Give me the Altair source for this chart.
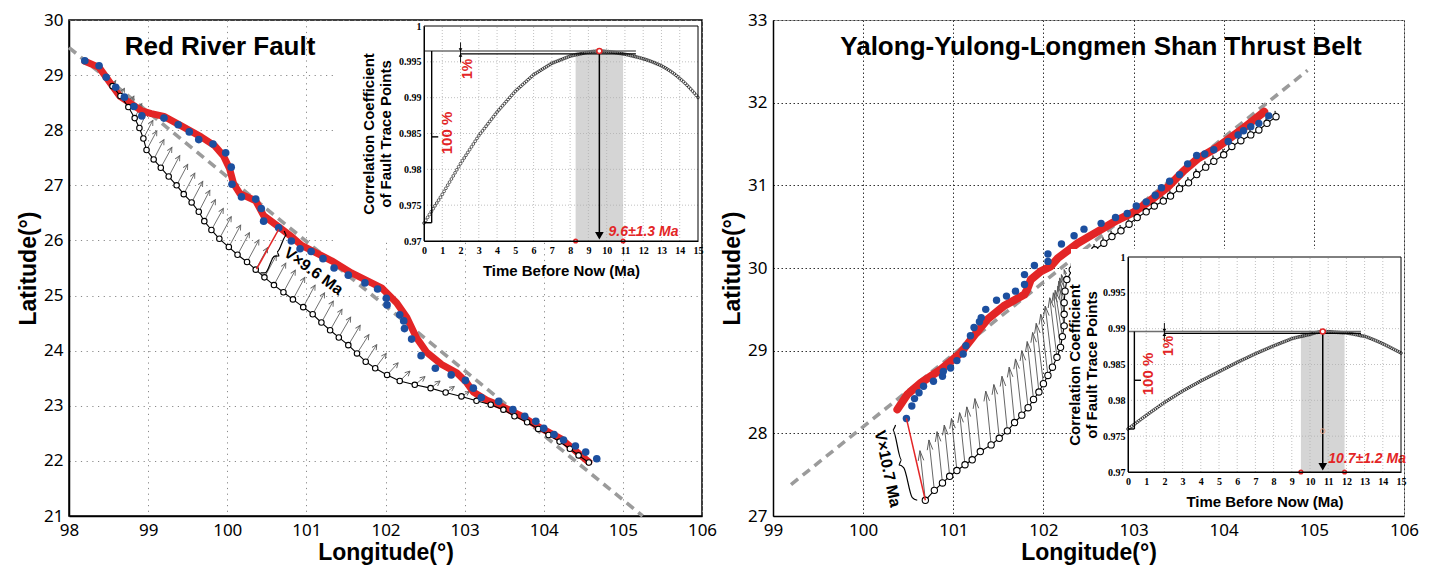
import math
import altair as alt
import pandas as pd

# ======================= DATA : Red River Fault (left) =======================
rr_blue_lon = [98.20, 98.38, 98.47, 98.59, 98.70, 98.82, 98.92, 99.20, 99.38, 99.52,
               99.64, 99.82, 99.98, 100.05, 100.06, 100.18, 100.36, 100.43, 100.46, 100.65,
               100.81, 100.92, 101.06, 101.21, 101.35, 101.53, 101.74, 101.90, 102.01, 102.02,
               102.18, 102.23, 102.24, 102.33, 102.45, 102.63, 102.83, 103.01, 103.11, 103.21,
               103.43, 103.61, 103.76, 103.90, 104.00, 104.13, 104.25, 104.40, 104.53, 104.67]
rr_blue_lat = [29.26, 29.17, 28.96, 28.78, 28.60, 28.43, 28.26, 28.22, 28.10, 27.97,
               27.83, 27.75, 27.59, 27.33, 27.02, 26.79, 26.75, 26.58, 26.35, 26.23,
               25.99, 25.85, 25.80, 25.67, 25.50, 25.37, 25.23, 25.12, 24.95, 24.83,
               24.65, 24.54, 24.40, 24.21, 23.91, 23.68, 23.56, 23.46, 23.32, 23.15,
               23.08, 22.93, 22.81, 22.72, 22.59, 22.48, 22.38, 22.27, 22.16, 22.04]
rr_red_lon = [98.20, 98.38, 98.64, 98.92, 99.04, 99.20, 99.42, 99.67, 99.84, 99.95,
              100.03, 100.08, 100.16, 100.36, 100.46, 100.63, 100.82, 100.94, 101.32, 101.57,
              101.95, 102.14, 102.27, 102.39, 102.52, 102.71, 102.90, 103.02, 103.11, 103.28,
              103.47, 103.72, 103.97, 104.22, 104.57]
rr_red_lat = [29.25, 29.14, 28.62, 28.35, 28.30, 28.25, 28.08, 27.88, 27.72, 27.54,
              27.30, 27.03, 26.85, 26.72, 26.45, 26.27, 26.06, 25.91, 25.63, 25.41,
              25.14, 24.87, 24.60, 24.24, 23.97, 23.75, 23.60, 23.43, 23.25, 23.10,
              22.99, 22.81, 22.59, 22.40, 21.98]
rr_rest_lon = [98.55, 98.65, 98.75, 98.83, 98.89, 98.94, 98.98, 99.07, 99.16, 99.26,
               99.36, 99.45, 99.55, 99.64, 99.71, 99.80, 99.90, 100.02, 100.13, 100.25,
               100.36, 100.47, 100.59, 100.71, 100.83, 100.96, 101.08, 101.19, 101.30, 101.41,
               101.53, 101.64, 101.75, 101.87, 102.02, 102.18, 102.37, 102.57, 102.76, 102.96,
               103.15, 103.33, 103.49, 103.63, 103.79, 103.93, 104.06, 104.20, 104.33, 104.44,
               104.57]
rr_rest_lat = [28.80, 28.62, 28.42, 28.22, 28.04, 27.85, 27.64, 27.47, 27.32, 27.16,
               27.00, 26.84, 26.69, 26.52, 26.35, 26.19, 26.03, 25.88, 25.74, 25.61,
               25.47, 25.33, 25.19, 25.06, 24.93, 24.79, 24.66, 24.51, 24.37, 24.24,
               24.10, 23.95, 23.80, 23.68, 23.56, 23.45, 23.38, 23.32, 23.24, 23.17,
               23.09, 23.02, 22.93, 22.81, 22.70, 22.58, 22.47, 22.35, 22.22, 22.10,
               21.97]
rr_vec_dlon = [0.04, 0.05, 0.07, 0.09, 0.10, 0.12, 0.13, 0.13, 0.14, 0.14,
               0.14, 0.14, 0.14, 0.14, 0.14, 0.15, 0.15, 0.15, 0.15, 0.15,
               0.15, 0.15, 0.15, 0.15, 0.15, 0.15, 0.15, 0.15, 0.15, 0.15,
               0.15, 0.15, 0.14, 0.14, 0.14, 0.13, 0.13, 0.12, 0.11, 0.10,
               0.08, 0.06, 0.04, 0.04, 0.04, 0.04, 0.04, 0.04, 0.04, 0.04,
               0.04]
rr_vec_dlat = [0.10, 0.14, 0.20, 0.26, 0.30, 0.33, 0.35, 0.36, 0.37, 0.38,
               0.38, 0.38, 0.38, 0.39, 0.39, 0.39, 0.40, 0.40, 0.40, 0.40,
               0.40, 0.40, 0.40, 0.40, 0.40, 0.40, 0.39, 0.39, 0.38, 0.37,
               0.36, 0.34, 0.31, 0.27, 0.22, 0.18, 0.15, 0.13, 0.11, 0.09,
               0.07, 0.05, 0.03, 0.03, 0.03, 0.03, 0.03, 0.03, 0.03, 0.03,
               0.03]
rr_trend_lon = [98.0, 105.25]
rr_trend_lat = [29.5, 21.0]
rr_vline_lon = [100.37, 100.65]
rr_vline_lat = [25.48, 26.20]
rr_brace_top = (100.72, 26.17)
rr_brace_bot = (100.42, 25.41)
rr_vtext = "V×9.6 Ma"
rr_vtext_pos = (101.09, 25.44)
rr_title = "Red River Fault"

# correlation coefficient vs time (inset), sampled every 0.1 Ma
inset_time = [round(i * 0.1, 1) for i in range(151)]
rr_corr = [0.97250, 0.97290, 0.97330, 0.97370, 0.97410, 0.97450, 0.97490, 0.97530, 0.97570, 0.97610,
           0.97650, 0.97693, 0.97736, 0.97779, 0.97822, 0.97865, 0.97908, 0.97951, 0.97994, 0.98037,
           0.98080, 0.98119, 0.98158, 0.98197, 0.98236, 0.98275, 0.98314, 0.98353, 0.98392, 0.98431,
           0.98470, 0.98503, 0.98536, 0.98569, 0.98602, 0.98635, 0.98668, 0.98701, 0.98734, 0.98767,
           0.98800, 0.98829, 0.98858, 0.98887, 0.98916, 0.98945, 0.98974, 0.99003, 0.99032, 0.99061,
           0.99090, 0.99113, 0.99136, 0.99159, 0.99182, 0.99205, 0.99228, 0.99251, 0.99274, 0.99297,
           0.99320, 0.99336, 0.99352, 0.99368, 0.99384, 0.99400, 0.99416, 0.99432, 0.99448, 0.99464,
           0.99480, 0.99490, 0.99500, 0.99510, 0.99520, 0.99530, 0.99540, 0.99550, 0.99560, 0.99570,
           0.99580, 0.99586, 0.99591, 0.99597, 0.99602, 0.99608, 0.99613, 0.99619, 0.99624, 0.99630,
           0.99635, 0.99639, 0.99643, 0.99646, 0.99648, 0.99650, 0.99651, 0.99650, 0.99649, 0.99647,
           0.99645, 0.99642, 0.99639, 0.99636, 0.99632, 0.99628, 0.99624, 0.99620, 0.99615, 0.99610,
           0.99605, 0.99600, 0.99594, 0.99588, 0.99582, 0.99576, 0.99570, 0.99564, 0.99557, 0.99550,
           0.99543, 0.99535, 0.99527, 0.99518, 0.99509, 0.99499, 0.99489, 0.99478, 0.99467, 0.99456,
           0.99444, 0.99430, 0.99416, 0.99401, 0.99385, 0.99368, 0.99350, 0.99331, 0.99311, 0.99290,
           0.99268, 0.99246, 0.99223, 0.99199, 0.99174, 0.99148, 0.99121, 0.99093, 0.99064, 0.99034,
           0.99003]
rr_peak = (9.6, 0.99651)
rr_lower = 0.99610
rr_base = 0.97255
rr_band = (8.3, 10.9)
rr_line_end = 11.6
rr_age = "9.6±1.3 Ma"
rr_age_pos = (10.1, 0.97126)
rr_pct100_pos = (1.26, 0.98507)
rr_pct1_pos = (2.41, 0.99400)
rr_small_arrow = (0.99770, 0.99490)

# ============== DATA : Yalong-Yulong-Longmen Shan Thrust Belt (right) ==============
yl_blue_lon = [100.48, 100.54, 100.57, 100.62, 100.67, 100.78, 100.88, 100.89, 100.97, 101.04,
               101.11, 101.14, 101.19, 101.23, 101.29, 101.31, 101.36, 101.48, 101.59, 101.69,
               101.79, 101.79, 101.90, 102.05, 102.05, 102.20, 102.34, 102.45, 102.64, 102.80,
               102.93, 103.03, 103.14, 103.24, 103.31, 103.40, 103.51, 103.60, 103.70, 103.79,
               103.89, 104.05, 104.16, 104.22, 104.30, 104.39, 104.50]
yl_blue_lat = [28.18, 28.33, 28.42, 28.49, 28.57, 28.63, 28.69, 28.75, 28.79, 28.88,
               28.96, 29.06, 29.18, 29.28, 29.35, 29.40, 29.50, 29.61, 29.66, 29.72,
               29.80, 29.92, 30.03, 30.08, 30.17, 30.29, 30.39, 30.47, 30.54, 30.61,
               30.66, 30.75, 30.80, 30.88, 30.97, 31.05, 31.13, 31.26, 31.36, 31.38,
               31.43, 31.53, 31.61, 31.66, 31.71, 31.75, 31.84]
yl_red_lon = [100.38, 100.49, 100.64, 100.86, 101.08, 101.23, 101.38, 101.56, 101.79, 101.82,
              101.86, 101.97, 102.08, 102.16, 102.38, 102.60, 102.82, 103.01, 103.19, 103.38,
              103.56, 103.71, 103.93, 104.23, 104.45]
yl_red_lat = [28.29, 28.47, 28.61, 28.77, 28.97, 29.18, 29.38, 29.54, 29.68, 29.74,
              29.86, 29.96, 30.02, 30.12, 30.30, 30.44, 30.58, 30.68, 30.82, 30.98,
              31.18, 31.32, 31.46, 31.70, 31.89]
yl_rest_lon = [100.69, 100.79, 100.88, 100.96, 101.04, 101.13, 101.21, 101.30, 101.42, 101.51,
               101.60, 101.68, 101.76, 101.83, 101.89, 101.95, 102.00, 102.05, 102.10, 102.15,
               102.19, 102.21, 102.23, 102.23, 102.23, 102.24, 102.26, 102.32, 102.40, 102.48,
               102.57, 102.67, 102.76, 102.86, 102.95, 103.04, 103.14, 103.23, 103.33, 103.41,
               103.51, 103.61, 103.70, 103.80, 103.89, 104.00, 104.09, 104.19, 104.30, 104.39,
               104.48, 104.58]
yl_rest_lat = [27.19, 27.31, 27.40, 27.48, 27.55, 27.62, 27.68, 27.78, 27.86, 27.94,
               28.03, 28.13, 28.22, 28.31, 28.41, 28.50, 28.60, 28.70, 28.80, 28.92,
               29.04, 29.17, 29.30, 29.44, 29.58, 29.72, 29.86, 29.98, 30.06, 30.14,
               30.22, 30.30, 30.38, 30.45, 30.53, 30.61, 30.68, 30.75, 30.81, 30.87,
               30.96, 31.03, 31.13, 31.22, 31.29, 31.37, 31.47, 31.54, 31.61, 31.67,
               31.75, 31.83]
yl_vec_dlon = [-0.06, -0.06, -0.06, -0.06, -0.06, -0.06, -0.06, -0.06, -0.06, -0.06,
               -0.06, -0.06, -0.07, -0.07, -0.07, -0.07, -0.08, -0.08, -0.08, -0.08,
               -0.08, -0.08, -0.07, -0.06, -0.05, -0.04, -0.03, -0.01, -0.01, -0.01,
               -0.01, -0.01, -0.01, -0.01, -0.01, -0.01, -0.01, -0.01, -0.01, -0.01,
               -0.01, -0.01, -0.01, -0.01, -0.01, -0.01, -0.01, -0.01, -0.01, -0.01,
               -0.01, -0.01]
yl_vec_dlat = [0.60, 0.61, 0.62, 0.62, 0.63, 0.63, 0.64, 0.64, 0.65, 0.65,
               0.66, 0.67, 0.68, 0.69, 0.70, 0.72, 0.73, 0.74, 0.74, 0.72,
               0.66, 0.56, 0.48, 0.40, 0.30, 0.20, 0.12, 0.08, 0.07, 0.07,
               0.07, 0.07, 0.07, 0.07, 0.07, 0.07, 0.07, 0.07, 0.07, 0.07,
               0.07, 0.07, 0.07, 0.07, 0.07, 0.07, 0.07, 0.07, 0.07, 0.07,
               0.07, 0.07]
yl_trend_lon = [99.2, 104.93]
yl_trend_lat = [27.38, 32.39]
yl_vline_lon = [100.69, 100.48]
yl_vline_lat = [27.19, 28.18]
yl_brace_top = (100.36, 28.10)
yl_brace_bot = (100.60, 27.19)
yl_vtext = "V×10.7 Ma"
yl_vtext_pos = (100.27, 27.57)
yl_title = "Yalong-Yulong-Longmen Shan Thrust Belt"

yl_corr = [0.97600, 0.97619, 0.97638, 0.97657, 0.97676, 0.97695, 0.97714, 0.97733, 0.97752, 0.97771,
           0.97790, 0.97808, 0.97826, 0.97844, 0.97862, 0.97880, 0.97898, 0.97916, 0.97934, 0.97952,
           0.97970, 0.97986, 0.98002, 0.98018, 0.98034, 0.98050, 0.98066, 0.98082, 0.98098, 0.98114,
           0.98130, 0.98144, 0.98158, 0.98172, 0.98186, 0.98200, 0.98214, 0.98228, 0.98242, 0.98256,
           0.98270, 0.98283, 0.98296, 0.98309, 0.98322, 0.98335, 0.98348, 0.98361, 0.98374, 0.98387,
           0.98400, 0.98413, 0.98426, 0.98439, 0.98452, 0.98465, 0.98478, 0.98491, 0.98504, 0.98517,
           0.98530, 0.98542, 0.98554, 0.98566, 0.98578, 0.98590, 0.98602, 0.98614, 0.98626, 0.98638,
           0.98650, 0.98661, 0.98672, 0.98683, 0.98694, 0.98705, 0.98716, 0.98727, 0.98738, 0.98749,
           0.98760, 0.98770, 0.98780, 0.98790, 0.98800, 0.98810, 0.98820, 0.98830, 0.98840, 0.98850,
           0.98860, 0.98867, 0.98874, 0.98880, 0.98886, 0.98891, 0.98896, 0.98903, 0.98909, 0.98915,
           0.98920, 0.98928, 0.98936, 0.98943, 0.98949, 0.98954, 0.98958, 0.98960, 0.98960, 0.98959,
           0.98958, 0.98957, 0.98955, 0.98953, 0.98951, 0.98949, 0.98947, 0.98945, 0.98943, 0.98942,
           0.98940, 0.98936, 0.98932, 0.98928, 0.98923, 0.98918, 0.98913, 0.98907, 0.98901, 0.98898,
           0.98894, 0.98885, 0.98876, 0.98866, 0.98856, 0.98846, 0.98835, 0.98824, 0.98813, 0.98802,
           0.98790, 0.98778, 0.98765, 0.98752, 0.98739, 0.98726, 0.98713, 0.98700, 0.98687, 0.98674,
           0.98660]
yl_peak = (10.7, 0.98960)
yl_lower = 0.98935
yl_base = 0.97600
yl_band = (9.5, 11.9)
yl_line_end = 12.8
yl_age = "10.7±1.2 Ma"
yl_age_pos = (11.0, 0.97186)
yl_pct100_pos = (1.10, 0.98367)
yl_pct1_pos = (2.25, 0.98758)
yl_small_arrow = (0.99080, 0.98820)
yl_faint = (10.7, 0.97570)

inset_x_ticks = list(range(16))
inset_y_ticks = [0.97, 0.975, 0.98, 0.985, 0.99, 0.995, 1.0]

RED = "#e32526"
BLUE = "#1c4f9f"
LF = "Liberation Sans"


def brace_points(top, bot, depth, side, ppx, ppy):
    x0, y0 = top[0] * ppx, top[1] * ppy
    x1, y1 = bot[0] * ppx, bot[1] * ppy
    L = math.hypot(x1 - x0, y1 - y0)
    ux, uy = (x1 - x0) / L, (y1 - y0) / L
    nx, ny = -uy * side, ux * side
    prof = [(0, 0), (0.05, 1), (0.45, 1), (0.5, 2), (0.55, 1), (0.95, 1), (1, 0)]
    return [((x0 + ux * L * s + nx * depth * v) / ppx, (y0 + uy * L * s + ny * depth * v) / ppy)
            for s, v in prof]


def make_panel(P):
    W, H = P["W"], P["H"]
    xd, yd = P["xdom"], P["ydom"]
    ppx = W / (xd[1] - xd[0])
    ppy = H / (yd[1] - yd[0])
    xs = alt.Scale(domain=xd, nice=False, zero=False)
    ys = alt.Scale(domain=yd, nice=False, zero=False)
    common = dict(grid=True, gridColor=P["grid_color"], gridDash=P["grid_dash"], gridWidth=1,
                  ticks=False, domain=True, domainColor="black", domainWidth=1.5,
                  labelFont="Noto Sans", labelFontSize=17, labelColor="black", labelPadding=6,
                  labelFlush=False, labelOverlap=False, format="d",
                  titleFont=LF, titleFontSize=23, titleFontWeight="bold", titleColor="black")
    xax = alt.Axis(values=list(range(xd[0], xd[1] + 1)), title="Longitude(°)", titlePadding=3, **common)
    yax = alt.Axis(values=list(range(yd[0], yd[1] + 1)), title="Latitude(°)", titlePadding=3, **common)

    def MX(f):
        return alt.X(f, type="quantitative", scale=xs, axis=xax)

    def MY(f):
        return alt.Y(f, type="quantitative", scale=ys, axis=yax)

    trend = pd.DataFrame({"lon": P["trend_lon"], "lat": P["trend_lat"], "idx": [0, 1]})
    rows = []
    for lo, la, dlo, dla in zip(P["rest_lon"], P["rest_lat"], P["dlon"], P["dlat"]):
        dxp, dyp = dlo * ppx, dla * ppy
        length = math.hypot(dxp, dyp)
        ang = math.degrees(math.atan2(dxp, dyp)) % 360
        hl = min(P["head_len"], 0.45 * length)
        rows.append(dict(lon=lo, lat=la, lon2=lo + dlo, lat2=la + dla, ang=ang, hs=(2 * hl) ** 2))
    vec = pd.DataFrame(rows)
    red = pd.DataFrame({"lon": P["red_lon"], "lat": P["red_lat"], "idx": range(len(P["red_lon"]))})
    rest = pd.DataFrame({"lon": P["rest_lon"], "lat": P["rest_lat"], "idx": range(len(P["rest_lon"]))})
    blue = pd.DataFrame({"lon": P["blue_lon"], "lat": P["blue_lat"]})
    vline = pd.DataFrame({"lon": P["vline_lon"], "lat": P["vline_lat"], "idx": [0, 1]})
    bp = brace_points(P["brace_top"], P["brace_bot"], 4.0, P["brace_side"], ppx, ppy)
    brace = pd.DataFrame({"lon": [p[0] for p in bp], "lat": [p[1] for p in bp], "idx": range(len(bp))})
    vtext = pd.DataFrame({"lon": [P["vtext_pos"][0]], "lat": [P["vtext_pos"][1]], "label": [P["vtext"]]})
    ttl = pd.DataFrame({"label": [P["title"]]})

    main = alt.layer(
        alt.Chart(trend).mark_line(color="#9b9b9b", strokeWidth=3.6, strokeDash=[9, 6])
        .encode(x=MX("lon"), y=MY("lat"), order=alt.Order("idx:Q")),
        alt.Chart(vec).mark_rule(color=P["arrow_color"], strokeWidth=0.9)
        .encode(x=MX("lon"), y=MY("lat"), x2="lon2", y2="lat2"),
        alt.Chart(vec).mark_point(shape=P["head_path"], filled=False, color=P["arrow_color"],
                                  strokeWidth=0.9, opacity=1)
        .encode(x=MX("lon2"), y=MY("lat2"), angle=alt.Angle("ang:Q", scale=None),
                size=alt.Size("hs:Q", scale=None)),
        alt.Chart(red).mark_line(color=RED, strokeWidth=P["red_w"], strokeCap="round", strokeJoin="round")
        .encode(x=MX("lon"), y=MY("lat"), order=alt.Order("idx:Q")),
        alt.Chart(rest).mark_line(color="black", strokeWidth=1.1)
        .encode(x=MX("lon"), y=MY("lat"), order=alt.Order("idx:Q")),
        alt.Chart(rest).mark_point(shape="circle", filled=True, fill="white", stroke="black",
                                   strokeWidth=1.1, size=P["ring_size"], opacity=1)
        .encode(x=MX("lon"), y=MY("lat")),
        alt.Chart(blue).mark_circle(color=BLUE, size=P["blue_size"], opacity=1)
        .encode(x=MX("lon"), y=MY("lat")),
        alt.Chart(vline).mark_line(color=RED, strokeWidth=1.5)
        .encode(x=MX("lon"), y=MY("lat"), order=alt.Order("idx:Q")),
        alt.Chart(brace).mark_line(color="black", strokeWidth=1.2, interpolate="monotone")
        .encode(x=MX("lon"), y=MY("lat"), order=alt.Order("idx:Q")),
        alt.Chart(vtext).mark_text(font=LF, fontWeight="bold", fontSize=16, angle=P["vtext_angle"],
                                   align="center", baseline="middle", color="black")
        .encode(x=MX("lon"), y=MY("lat"), text="label:N"),
        alt.Chart(ttl).mark_text(font=LF, fontWeight="bold", fontSize=26, align="center",
                                 baseline="middle", color="black")
        .encode(x=alt.value(P["title_xy"][0]), y=alt.value(P["title_xy"][1]), text="label:N"),
    )

    # ------------------ inset ------------------
    ixr, iyr = P["inset_xr"], P["inset_yr"]
    t0, t1 = inset_x_ticks[0], inset_x_ticks[-1]
    r0, r1 = inset_y_ticks[0], inset_y_ticks[-1]
    ixs = alt.Scale(domain=[t0, t1], range=ixr, nice=False, zero=False)
    iys = alt.Scale(domain=[r0, r1], range=iyr, nice=False, zero=False)
    icommon = dict(grid=False, ticks=False, domain=True, domainColor="black", domainWidth=1,
                   labelFont="Liberation Serif", labelFontWeight="bold", labelFontSize=10,
                   labelColor="black", labelFlush=False, labelOverlap=False, zindex=2,
                   titleFont=LF, titleFontWeight="bold", titleFontSize=15, titleColor="black")
    ixax = alt.Axis(orient="bottom", offset=iyr[0] - H, values=inset_x_ticks, format="d",
                    labelPadding=4, title="Time Before Now (Ma)", titlePadding=8, **icommon)
    iyax = alt.Axis(orient="left", offset=-ixr[0], values=inset_y_ticks, format="~g",
                    labelPadding=3, title=["Correlation Coefficient", "of Fault Trace Points"],
                    titlePadding=P["ititle_pad"], titleLineHeight=17, **icommon)

    def IX(f):
        return alt.X(f, type="quantitative", scale=ixs, axis=ixax)

    def IY(f):
        return alt.Y(f, type="quantitative", scale=iys, axis=iyax)

    one = pd.DataFrame({"a": [0]})
    pk_t, pk_r = P["peak"]
    band = pd.DataFrame({"t": [P["band"][0]], "t2": [P["band"][1]], "r": [r0], "r2": [pk_r]})
    vgrid = pd.DataFrame({"t": inset_x_ticks[1:-1], "r": r0, "r2": r1})
    hgrid = pd.DataFrame({"r": inset_y_ticks[1:-1], "t": t0, "t2": t1})
    curve = pd.DataFrame({"t": inset_time, "r": P["corr"]})
    upper = pd.DataFrame({"t": [t0], "t2": [P["line_end"]], "r": [pk_r], "r2": [pk_r]})
    base = P["base"]
    mid = (base + pk_r) / 2
    bx = P["bracket_x"]
    sa = P["small_arrow"]
    segs = pd.DataFrame({
        "t":  [2.0, bx, t0, bx, 2.0, pk_t],
        "t2": [P["line_end"], bx, bx, bx + 0.36, 2.0, pk_t],
        "r":  [P["lower"], base, base, mid, sa[0], pk_r],
        "r2": [P["lower"], pk_r, base, mid, sa[1], 0.9705],
        "w":  [1.2, 1.4, 1.4, 1.4, 0.9, 1.5],
    })
    heads = pd.DataFrame({
        "t": [2.0, 2.0, pk_t],
        "r": [pk_r + 0.00016, P["lower"] - 0.00016, 0.97075],
        "shape": ["triangle-down", "triangle-up", "triangle-down"],
        "s": [14, 14, 75],
    })
    redpts = pd.DataFrame({"t": [pk_t, P["band"][0], P["band"][1]], "r": [pk_r, r0, r0],
                           "s": [26, 13, 13]})
    rtext = pd.DataFrame({"t": [P["pct100_pos"][0], P["pct1_pos"][0]],
                          "r": [P["pct100_pos"][1], P["pct1_pos"][1]],
                          "label": ["100 %", "1%"], "fs": [15, 14]})
    age = pd.DataFrame({"t": [P["age_pos"][0]], "r": [P["age_pos"][1]], "label": [P["age"]]})
    frame = pd.DataFrame({"t": [t0], "t2": [t1], "r": [r0], "r2": [r1]})
    bg = P["inset_bg"]

    ilayers = [
        alt.Chart(one).mark_rect(fill="white", opacity=1)
        .encode(x=alt.value(bg[0]), x2=alt.value(bg[1]), y=alt.value(bg[2]), y2=alt.value(bg[3])),
        alt.Chart(band).mark_rect(color="#d5d5d5", opacity=1)
        .encode(x=IX("t"), x2="t2", y=IY("r"), y2="r2"),
        alt.Chart(vgrid).mark_rule(color="#b0b0b0", strokeDash=[1, 2], strokeWidth=0.8)
        .encode(x=IX("t"), y=IY("r"), y2="r2"),
        alt.Chart(hgrid).mark_rule(color="#b0b0b0", strokeDash=[1, 2], strokeWidth=0.8)
        .encode(y=IY("r"), x=IX("t"), x2="t2"),
        alt.Chart(curve).mark_point(shape="circle", filled=False, color="black", size=8,
                                    strokeWidth=0.6, opacity=1)
        .encode(x=IX("t"), y=IY("r")),
        alt.Chart(upper).mark_rule(color="#6e6e6e", strokeWidth=1.6)
        .encode(x=IX("t"), x2="t2", y=IY("r"), y2="r2"),
        alt.Chart(segs).mark_rule(color="black")
        .encode(x=IX("t"), x2="t2", y=IY("r"), y2="r2", strokeWidth=alt.StrokeWidth("w:Q", scale=None)),
        alt.Chart(heads).mark_point(filled=True, color="black", opacity=1)
        .encode(x=IX("t"), y=IY("r"), shape=alt.Shape("shape:N", scale=None),
                size=alt.Size("s:Q", scale=None)),
    ]
    if P.get("faint") is not None:
        faint = pd.DataFrame({"t": [P["faint"][0]], "r": [P["faint"][1]]})
        ilayers.append(alt.Chart(faint).mark_point(shape="circle", filled=False, color="#e7a58a",
                                                   size=22, strokeWidth=1, opacity=1)
                       .encode(x=IX("t"), y=IY("r")))
    ilayers += [
        alt.Chart(redpts).mark_point(shape="circle", filled=True, fill="white", stroke=RED,
                                     strokeWidth=1.5, opacity=1)
        .encode(x=IX("t"), y=IY("r"), size=alt.Size("s:Q", scale=None)),
        alt.Chart(rtext).mark_text(font=LF, fontWeight="bold", color=RED, angle=270,
                                   align="center", baseline="middle")
        .encode(x=IX("t"), y=IY("r"), text="label:N", size=alt.Size("fs:Q", scale=None)),
        alt.Chart(age).mark_text(font=LF, fontWeight="bold", fontStyle="italic", fontSize=14,
                                 color=RED, align="left", baseline="middle")
        .encode(x=IX("t"), y=IY("r"), text="label:N"),
        alt.Chart(frame).mark_rect(fillOpacity=0, stroke="black", strokeWidth=1)
        .encode(x=IX("t"), x2="t2", y=IY("r"), y2="r2"),
    ]
    inset = alt.layer(*ilayers)

    return alt.layer(main, inset).resolve_scale(x="independent", y="independent").properties(
        width=W, height=H, view=alt.ViewBackground(stroke=P["frame_color"], strokeWidth=P["frame_w"]))


left = make_panel(dict(
    W=633, H=496, xdom=[98, 106], ydom=[21, 30],
    grid_color="#8a8a8a", grid_dash=[1.2, 4.5], arrow_color="#626262",
    blue_lon=rr_blue_lon, blue_lat=rr_blue_lat, red_lon=rr_red_lon, red_lat=rr_red_lat,
    rest_lon=rr_rest_lon, rest_lat=rr_rest_lat, dlon=rr_vec_dlon, dlat=rr_vec_dlat,
    trend_lon=rr_trend_lon, trend_lat=rr_trend_lat, vline_lon=rr_vline_lon, vline_lat=rr_vline_lat,
    brace_top=rr_brace_top, brace_bot=rr_brace_bot, brace_side=1,
    vtext=rr_vtext, vtext_pos=rr_vtext_pos, vtext_angle=36, title=rr_title, title_xy=(151, 27),
    head_path="M-0.5,1L0,0L0.5,1", head_len=5.0, red_w=7, ring_size=30, blue_size=58,
    corr=rr_corr, peak=rr_peak, lower=rr_lower, base=rr_base, band=rr_band, line_end=rr_line_end,
    age=rr_age, age_pos=rr_age_pos, pct100_pos=rr_pct100_pos, pct1_pos=rr_pct1_pos,
    small_arrow=rr_small_arrow, bracket_x=0.42, faint=None, ititle_pad=5,
    inset_xr=[355, 629], inset_yr=[221, 6], inset_bg=(266, 632, 1, 221),
    frame_color="black", frame_w=1.5,
))

right = make_panel(dict(
    W=631, H=496, xdom=[99, 106], ydom=[27, 33],
    grid_color="#333333", grid_dash=[1.5, 2.5], arrow_color="#555555",
    blue_lon=yl_blue_lon, blue_lat=yl_blue_lat, red_lon=yl_red_lon, red_lat=yl_red_lat,
    rest_lon=yl_rest_lon, rest_lat=yl_rest_lat, dlon=yl_vec_dlon, dlat=yl_vec_dlat,
    trend_lon=yl_trend_lon, trend_lat=yl_trend_lat, vline_lon=yl_vline_lon, vline_lat=yl_vline_lat,
    brace_top=yl_brace_top, brace_bot=yl_brace_bot, brace_side=-1,
    vtext=yl_vtext, vtext_pos=yl_vtext_pos, vtext_angle=78, title=yl_title, title_xy=(328, 27),
    head_path="M-0.28,1L0,0L0.28,1", head_len=10.0, red_w=8, ring_size=40, blue_size=55,
    corr=yl_corr, peak=yl_peak, lower=yl_lower, base=yl_base, band=yl_band, line_end=yl_line_end,
    age=yl_age, age_pos=yl_age_pos, pct100_pos=yl_pct100_pos, pct1_pos=yl_pct1_pos,
    small_arrow=yl_small_arrow, bracket_x=0.35, faint=yl_faint, ititle_pad=3,
    inset_xr=[355, 628], inset_yr=[452, 237], inset_bg=(298, 630, 229, 495),
    frame_color="#9a9a9a", frame_w=1,
))

chart = alt.hconcat(left, right, spacing=3).properties(
    padding={"left": 8, "top": 2, "right": 0, "bottom": 0}
).configure(background="white").configure_view(stroke=None)

chart.save("out.html", embed_options={"renderer": "svg", "actions": False})
